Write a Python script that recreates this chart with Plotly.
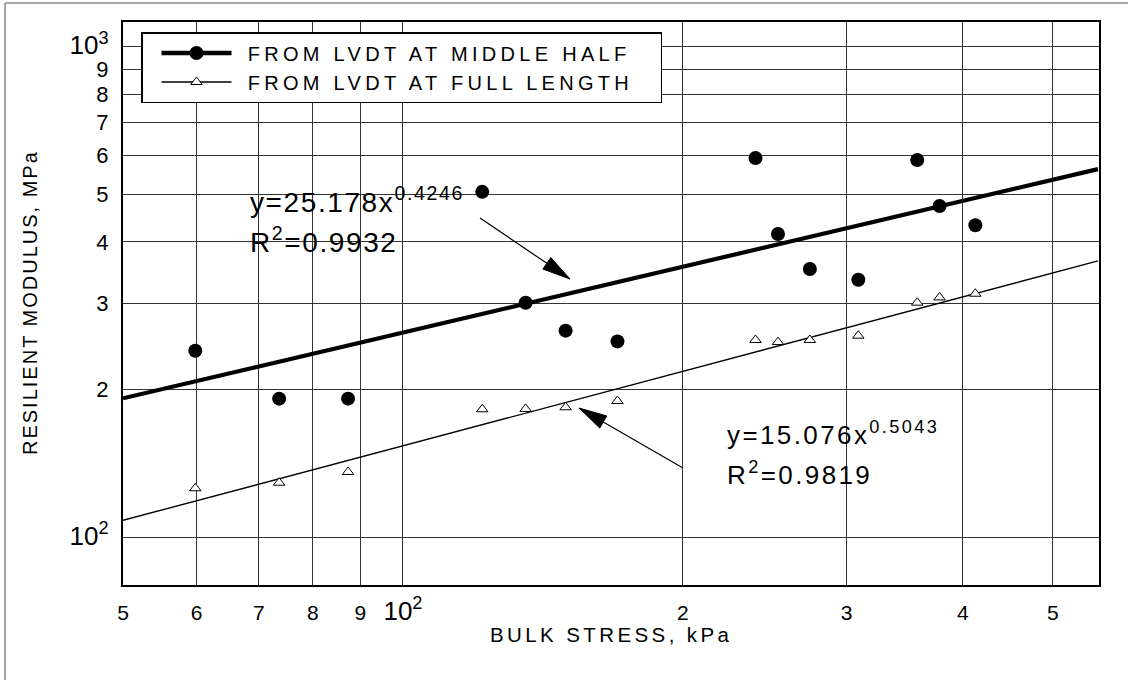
import plotly.graph_objects as go
import math

# ---------------- data ----------------
bulk_stress = [59.8, 73.6, 87.3, 121.7, 135.5, 149.6, 170.1, 239.4, 253.1, 273.9, 308.8, 357.3, 377.6, 412.6]
mr_middle_half = [240, 191.7, 191.7, 506, 300.8, 263.8, 250.8, 593, 415.2, 352.4, 335, 587.5, 473.4, 432.5]
mr_full_length = [125.9, 129.2, 135.9, 182.4, 182.7, 184.1, 189.6, 252.5, 250, 252.5, 257.6, 300.8, 308.3, 313.7]

fit_x = [50, 559]
fit_middle_half = [192, 563]
fit_full_length = [108.3, 366]

series_names = ["FROM LVDT AT MIDDLE HALF", "FROM LVDT AT FULL LENGTH"]

x_tickvals = [50, 60, 70, 80, 90, 100, 200, 300, 400, 500]
x_ticklabels = ["5", "6", "7", "8", "9", "10²", "2", "3", "4", "5"]
y_tickvals = [100, 200, 300, 400, 500, 600, 700, 800, 900, 1000]
y_ticklabels = ["10²", "2", "3", "4", "5", "6", "7", "8", "9", "10³"]

eq_middle = ("y=25.178x", "0.4246", "R", "=0.9932")
eq_full = ("y=15.076x", "0.5043", "R", "=0.9819")

# ---------------- layout geometry ----------------
W, H = 1128, 680
PL, PR, PT, PB = 123, 1099, 22, 585
FONT = "Liberation Sans, Arial, sans-serif"


def px(x):
    return (x - PL) / (PR - PL)


def py(y):
    return (PB - y) / (PB - PT)


def fmt_tick(lbl, big):
    if lbl.startswith("10"):
        sup = lbl[2:].translate(str.maketrans("²³", "23"))
        return f'<span style="font-size:{big}px">10<sup>{sup}</sup></span>'
    return lbl


def spaced(text, ls):
    return f'<span style="letter-spacing:{ls}px">{text}</span>'


fig = go.Figure()

# fitted lines
fig.add_trace(go.Scatter(x=fit_x, y=fit_middle_half, mode="lines",
                         line=dict(color="black", width=4.2), showlegend=False, hoverinfo="skip"))
fig.add_trace(go.Scatter(x=fit_x, y=fit_full_length, mode="lines",
                         line=dict(color="black", width=1.4), showlegend=False, hoverinfo="skip"))

# data points
fig.add_trace(go.Scatter(x=bulk_stress, y=mr_middle_half, mode="markers",
                         marker=dict(symbol="circle", size=14, color="black"),
                         showlegend=False))
fig.add_trace(go.Scatter(x=bulk_stress, y=mr_full_length, mode="markers",
                         marker=dict(symbol="triangle-up", size=10, color="white",
                                     line=dict(color="black", width=1)),
                         showlegend=False))

# legend entries
pad_l = "&nbsp;&nbsp;"
pad_r = "&nbsp;&nbsp;&nbsp;&nbsp;"
fig.add_trace(go.Scatter(x=[None], y=[None], mode="lines+markers",
                         name=pad_l + spaced(series_names[0], 4.3) + pad_r,
                         line=dict(color="black", width=4.5),
                         marker=dict(symbol="circle", size=14, color="black")))
fig.add_trace(go.Scatter(x=[None], y=[None], mode="lines+markers",
                         name=pad_l + spaced(series_names[1], 4.3) + pad_r,
                         line=dict(color="black", width=1.5),
                         marker=dict(symbol="triangle-up", size=10, color="white",
                                     line=dict(color="black", width=1))))

grid_col = "#333333"
fig.update_xaxes(type="log", range=[math.log10(50), 2.7485],
                 tickmode="array", tickvals=x_tickvals,
                 ticktext=[fmt_tick(t, 26) for t in x_ticklabels],
                 ticks="", ticklabelstandoff=8,
                 showgrid=True, gridcolor=grid_col, gridwidth=1,
                 showline=True, linecolor="black", linewidth=2, mirror=True,
                 zeroline=False,
                 tickfont=dict(family=FONT, size=21, color="black"))
fig.update_yaxes(type="log", range=[1.9028, 3.0504],
                 tickmode="array", tickvals=y_tickvals,
                 ticktext=[fmt_tick(t, 26) for t in y_ticklabels],
                 ticks="", ticklabelstandoff=8,
                 showgrid=True, gridcolor=grid_col, gridwidth=1,
                 showline=True, linecolor="black", linewidth=2, mirror=True,
                 zeroline=False,
                 tickfont=dict(family=FONT, size=22, color="black"))

annotations = []
# axis titles
annotations.append(dict(xref="paper", yref="paper", x=px(30), y=py(303), textangle=-90,
                        text=spaced("RESILIENT MODULUS, MPa", 2), showarrow=False,
                        font=dict(family=FONT, size=20, color="black"),
                        xanchor="center", yanchor="middle"))
annotations.append(dict(xref="paper", yref="paper", x=px(611), y=py(634),
                        text=spaced("BULK STRESS, kPa", 3.4), showarrow=False,
                        font=dict(family=FONT, size=20.5, color="black"),
                        xanchor="center", yanchor="middle"))
# equations
annotations.append(dict(xref="paper", yref="paper", x=px(248), y=py(200),
                        text=spaced(f"{eq_middle[0]}<sup>{eq_middle[1]}</sup>", 1.6),
                        showarrow=False, font=dict(family=FONT, size=28, color="black"),
                        xanchor="left", yanchor="middle"))
annotations.append(dict(xref="paper", yref="paper", x=px(248), y=py(240),
                        text=spaced(f"{eq_middle[2]}<sup>2</sup>{eq_middle[3]}", 1.6),
                        showarrow=False, font=dict(family=FONT, size=28, color="black"),
                        xanchor="left", yanchor="middle"))
annotations.append(dict(xref="paper", yref="paper", x=px(725), y=py(433),
                        text=spaced(f"{eq_full[0]}<sup>{eq_full[1]}</sup>", 2.4),
                        showarrow=False, font=dict(family=FONT, size=26, color="black"),
                        xanchor="left", yanchor="middle"))
annotations.append(dict(xref="paper", yref="paper", x=px(725), y=py(473),
                        text=spaced(f"{eq_full[2]}<sup>2</sup>{eq_full[3]}", 2.4),
                        showarrow=False, font=dict(family=FONT, size=26, color="black"),
                        xanchor="left", yanchor="middle"))


def arrow_shapes(tail, tip, L=28, hw=7):
    dx, dy = tip[0] - tail[0], tip[1] - tail[1]
    n = math.hypot(dx, dy)
    ux, uy = dx / n, dy / n
    bx, by = tip[0] - L * ux, tip[1] - L * uy
    nx, ny = -uy, ux
    c1 = (bx + hw * nx, by + hw * ny)
    c2 = (bx - hw * nx, by - hw * ny)
    line = dict(type="line", xref="paper", yref="paper",
                x0=px(tail[0]), y0=py(tail[1]), x1=px(bx), y1=py(by),
                line=dict(color="black", width=1.2))
    path = "M{},{} L{},{} L{},{} Z".format(px(tip[0]), py(tip[1]), px(c1[0]), py(c1[1]),
                                        px(c2[0]), py(c2[1]))
    head = dict(type="path", xref="paper", yref="paper", path=path,
                fillcolor="black", line=dict(color="black", width=1))
    return [line, head]


shapes = []
shapes += arrow_shapes((480, 218), (570, 279))
shapes += arrow_shapes((683, 468), (579, 408))
# outer frame (left and top edges)
shapes.append(dict(type="line", xref="paper", yref="paper", x0=px(5), x1=px(5), y0=py(3), y1=py(690),
                   line=dict(color="#888", width=1.5)))
shapes.append(dict(type="line", xref="paper", yref="paper", x0=px(5), x1=px(1140), y0=py(3), y1=py(3),
                   line=dict(color="#888", width=1.5)))

fig.update_layout(
    width=W, height=H,
    margin=dict(l=PL, r=W - PR, t=PT, b=H - PB),
    paper_bgcolor="white", plot_bgcolor="white",
    font=dict(family=FONT, color="black"),
    annotations=annotations,
    shapes=shapes,
    showlegend=True,
    legend=dict(x=px(141), y=py(32), xanchor="left", yanchor="top",
                bgcolor="white", bordercolor="black", borderwidth=1.5,
                font=dict(family=FONT, size=20, color="black"),
                itemwidth=70, indentation=14, tracegroupgap=0),
)

fig.write_html("out.html")
